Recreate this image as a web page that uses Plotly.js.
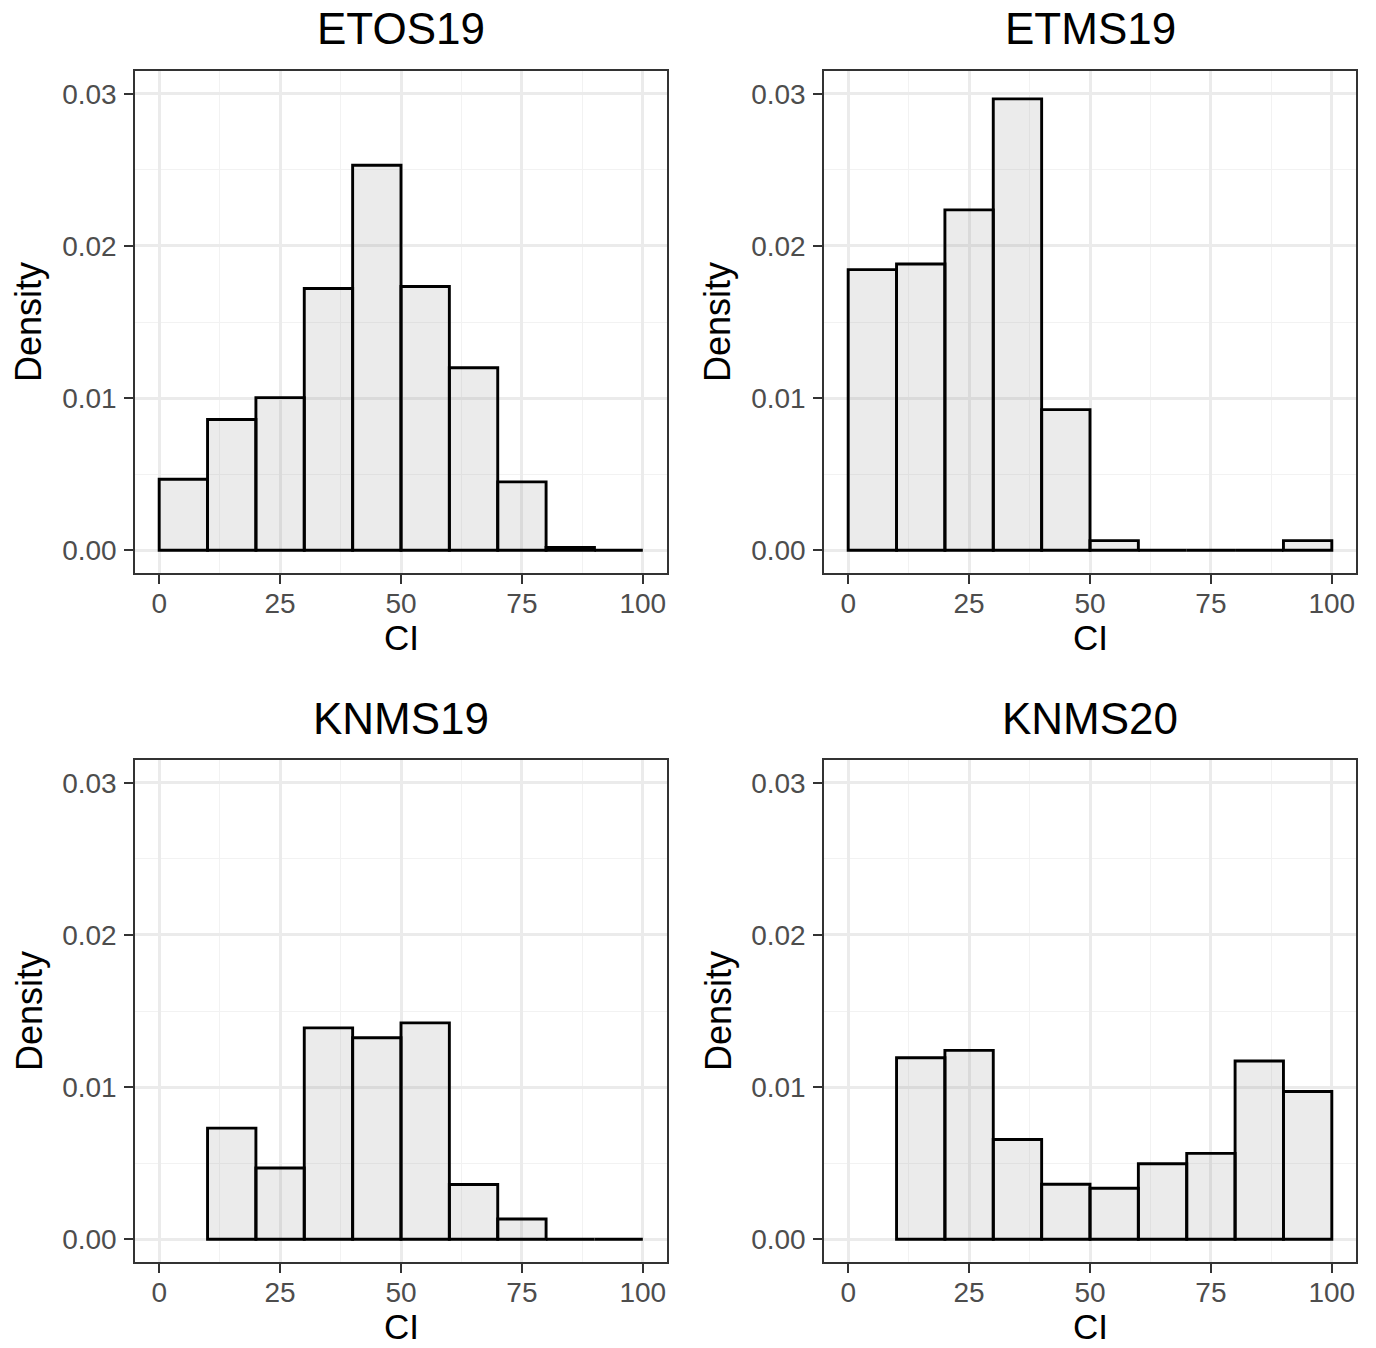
<!DOCTYPE html>
<html>
<head>
<meta charset="utf-8">
<script src="https://cdn.plot.ly/plotly-3.0.1.min.js"></script>
<style>html,body{margin:0;padding:0;background:#fff;}#chart{width:1376px;height:1348px;}</style>
</head>
<body>
<div id="chart"></div>
<script>
// Bin centres (bin width 10 on CI)
const binCenters = [5, 15, 25, 35, 45, 55, 65, 75, 85, 95];
// Density per bin (null = no bar drawn)
const etos19 = [0.00466, 0.00859, 0.01003, 0.01720, 0.02530, 0.01733, 0.01199, 0.00449, 0.00018, 0];
const etms19 = [0.01844, 0.01881, 0.02237, 0.02967, 0.00924, 0.00063, 0, 0, 0, 0.00063];
const knms19 = [null, 0.00730, 0.00468, 0.01389, 0.01324, 0.01422, 0.00359, 0.00133, 0, 0];
const knms20 = [null, 0.01193, 0.01241, 0.00655, 0.00361, 0.00335, 0.00496, 0.00564, 0.01171, 0.00971];
const panelTitles = ["ETOS19", "ETMS19", "KNMS19", "KNMS20"];
const xTickVals = [0, 25, 50, 75, 100];
const yTickVals = [0, 0.01, 0.02, 0.03];

const W = 1376, H = 1348;
const series = [etos19, etms19, knms19, knms20];
// panel pixel boxes [left, right, top, bottom]
const boxes = [
  [135, 667, 71, 573],
  [824, 1356, 71, 573],
  [135, 667, 760, 1262],
  [824, 1356, 760, 1262]
];
const FONT = "Liberation Sans, Arial, Helvetica, sans-serif";

const traces = [];
const layout = {
  width: W, height: H,
  margin: {l: 0, r: 0, t: 0, b: 0},
  paper_bgcolor: "#ffffff",
  plot_bgcolor: "#ffffff",
  showlegend: false,
  barmode: "overlay",
  annotations: [],
  font: {family: FONT}
};

series.forEach((vals, i) => {
  const n = i + 1;
  const xa = "x" + (n === 1 ? "" : n);
  const ya = "y" + (n === 1 ? "" : n);
  traces.push({
    type: "bar",
    x: binCenters,
    y: vals,
    width: 10,
    xaxis: xa, yaxis: ya,
    marker: {color: "rgba(128,128,128,0.16)", line: {color: "#000000", width: 2.9}},
    hoverinfo: "x+y"
  });
  const [l, r, t, b] = boxes[i];
  const common = {
    showline: true, mirror: true, linecolor: "#333333", linewidth: 1.5,
    ticks: "outside", ticklen: 9, tickwidth: 2.4, tickcolor: "#333333",
    showgrid: true, gridcolor: "#EBEBEB", gridwidth: 2.8,
    zeroline: false, automargin: false, fixedrange: true,
    tickfont: {family: FONT, size: 28, color: "#4D4D4D"}
  };
  layout["xaxis" + (n === 1 ? "" : n)] = Object.assign({}, common, {
    domain: [l / W, r / W],
    anchor: ya,
    range: [-5, 105],
    tickmode: "array", tickvals: xTickVals, ticktext: xTickVals.map(String),
    ticklabelstandoff: -4,
    minor: {tickmode: "array", tickvals: [12.5, 37.5, 62.5, 87.5], showgrid: true, gridcolor: "#F2F2F2", gridwidth: 1.4, ticks: ""}
  });
  layout["yaxis" + (n === 1 ? "" : n)] = Object.assign({}, common, {
    domain: [1 - b / H, 1 - t / H],
    anchor: xa,
    range: [-0.0015, 0.0315],
    tickmode: "array", tickvals: yTickVals, ticktext: yTickVals.map(v => v.toFixed(2)),
    ticklabelstandoff: 2,
    minor: {tickmode: "array", tickvals: [0.005, 0.015, 0.025], showgrid: true, gridcolor: "#F2F2F2", gridwidth: 1.4, ticks: ""}
  });
  // panel title
  layout.annotations.push({
    text: panelTitles[i], xref: "paper", yref: "paper",
    x: (l + r) / 2 / W, y: 1 - (t - 42) / H,
    xanchor: "center", yanchor: "middle", showarrow: false,
    font: {family: FONT, size: 44, color: "#000000"}
  });
  // x axis title
  layout.annotations.push({
    text: "CI", xref: "paper", yref: "paper",
    x: (l + r) / 2 / W, y: 1 - (b + 64) / H,
    xanchor: "center", yanchor: "middle", showarrow: false,
    font: {family: FONT, size: 35, color: "#000000"}
  });
  // y axis title
  layout.annotations.push({
    text: "Density", xref: "paper", yref: "paper",
    x: (l - 106) / W, y: 1 - ((t + b) / 2) / H,
    xanchor: "center", yanchor: "middle", showarrow: false, textangle: -90,
    font: {family: FONT, size: 36, color: "#000000"}
  });
});

Plotly.newPlot("chart", traces, layout, {displayModeBar: false});
</script>
</body>
</html>
